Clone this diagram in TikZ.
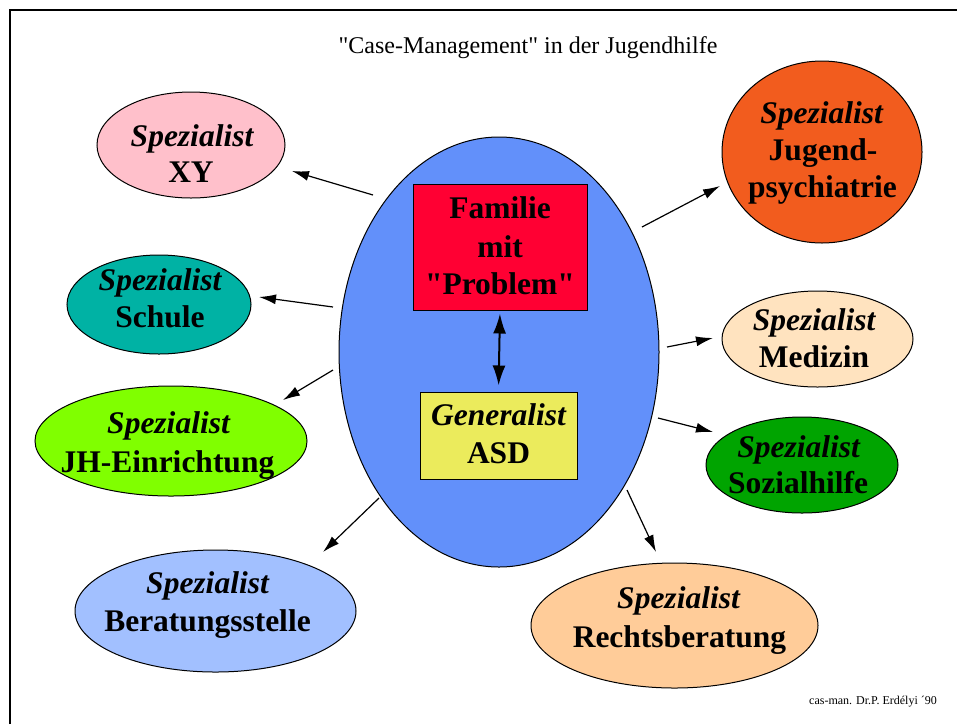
\documentclass[tikz,border=0pt]{standalone}
\usepackage{fontspec}
\setmainfont{Liberation Serif}[Ligatures=TeXOff]
\usetikzlibrary{shapes.geometric,arrows.meta}
\definecolor{cblue}{RGB}{98,144,250}
\definecolor{cred}{RGB}{255,0,51}
\definecolor{cyellow}{RGB}{235,235,92}
\definecolor{cpink}{RGB}{255,192,203}
\definecolor{cteal}{RGB}{0,178,164}
\definecolor{clime}{RGB}{128,255,0}
\definecolor{clblue}{RGB}{162,192,255}
\definecolor{corange}{RGB}{242,92,30}
\definecolor{cbeige}{RGB}{255,227,191}
\definecolor{cgreen}{RGB}{0,164,0}
\definecolor{cpeach}{RGB}{255,204,153}
\begin{document}
\begin{tikzpicture}[x=1pt,y=-1pt,
  ell/.style={ellipse,draw=black,line width=1pt,inner sep=0pt},
  boxnode/.style={rectangle,draw=black,line width=1pt,inner sep=0pt},
  lbl/.style={anchor=base,inner sep=0pt,font=\fontsize{31.5}{37}\selectfont\bfseries},
  spec/.style={anchor=base,inner sep=0pt,font=\fontsize{31.5}{37}\selectfont\bfseries\itshape},
  arr/.style={line width=1.2pt,-{Latex[length=17pt,width=10pt]}},
  dbl/.style={line width=2pt,{Latex[length=20pt,width=13pt]}-{Latex[length=20pt,width=13pt]}}]
\useasboundingbox (0,0) rectangle (957,724);
\fill[white] (0,0) rectangle (957,724);
\draw[line width=2pt] (10,724) -- (10,10) -- (957,10);

\node[anchor=base,inner sep=0pt,font=\fontsize{24}{29}\selectfont] (title) at (528,53) {"Case-Management" in der Jugendhilfe};
\node[anchor=base,inner sep=0pt,font=\fontsize{12}{14}\selectfont] (foot) at (873,704) {cas-man. Dr.P. Erdélyi ´90};

% central ellipse
\node[ell,fill=cblue,minimum width=320pt,minimum height=430pt] (blue) at (499,352) {};
\node[boxnode,fill=cred,minimum width=174pt,minimum height=126pt] (fam) at (500,247) {};
\node[lbl] (fam-a) at (500,218) {Familie};
\node[lbl] (fam-b) at (500,257) {mit};
\node[lbl] (fam-c) at (500,294) {"Problem"};
\node[boxnode,fill=cyellow,minimum width=157pt,minimum height=87pt] (gen) at (498.5,435.5) {};
\node[spec] (gen-a) at (498.5,425) {Generalist};
\node[lbl] (gen-b) at (498.5,463) {ASD};
\draw[dbl,shorten <=3pt,shorten >=6pt] (fam.south) -- (gen.north);

% specialists
\node[ell,fill=cpink,minimum width=188pt,minimum height=106pt] (xy) at (191,145) {};
\node[spec] (xy-a) at (192,146) {Spezialist};
\node[lbl] (xy-b) at (191,182) {XY};

\node[ell,fill=cteal,minimum width=184pt,minimum height=99pt] (sch) at (159,304.5) {};
\node[spec] (sch-a) at (160,290) {Spezialist};
\node[lbl] (sch-b) at (160,327) {Schule};

\node[ell,fill=clime,minimum width=272pt,minimum height=110pt] (jh) at (171,441) {};
\node[spec] (jh-a) at (168.5,433) {Spezialist};
\node[lbl] (jh-b) at (167.5,472) {JH-Einrichtung};

\node[ell,fill=clblue,minimum width=281pt,minimum height=122pt] (ber) at (215.5,611) {};
\node[spec] (ber-a) at (207.5,593) {Spezialist};
\node[lbl] (ber-b) at (207.5,631) {Beratungsstelle};

\node[ell,fill=corange,minimum width=200pt,minimum height=182pt] (jug) at (822,152) {};
\node[spec] (jug-a) at (821.5,123) {Spezialist};
\node[lbl] (jug-b) at (823,160) {Jugend-};
\node[lbl] (jug-c) at (822.5,197) {psychiatrie};

\node[ell,fill=cbeige,minimum width=191pt,minimum height=96pt] (med) at (817.5,339) {};
\node[spec] (med-a) at (814,330) {Spezialist};
\node[lbl] (med-b) at (814,367) {Medizin};

\node[ell,fill=cgreen,minimum width=192pt,minimum height=96pt] (soz) at (802,465) {};
\node[spec] (soz-a) at (798.5,457) {Spezialist};
\node[lbl] (soz-b) at (798,493) {Sozialhilfe};

\node[ell,fill=cpeach,minimum width=287pt,minimum height=125pt] (rec) at (674.5,625.5) {};
\node[spec] (rec-a) at (678.5,608) {Spezialist};
\node[lbl] (rec-b) at (679.5,647) {Rechtsberatung};

% connector end points
\coordinate (s-xy) at (373,195);  \coordinate (t-xy) at (292,171);
\coordinate (s-sch) at (333,307); \coordinate (t-sch) at (259,297);
\coordinate (s-jh) at (333,370);  \coordinate (t-jh) at (283,400);
\coordinate (s-ber) at (379,498); \coordinate (t-ber) at (323,552);
\coordinate (s-jug) at (642,227); \coordinate (t-jug) at (720,186);
\coordinate (s-med) at (667,347); \coordinate (t-med) at (713,338);
\coordinate (s-soz) at (658,418); \coordinate (t-soz) at (713,432);
\coordinate (s-rec) at (627,490); \coordinate (t-rec) at (656,552);

\draw[arr] (s-xy) -- (t-xy);
\draw[arr] (s-sch) -- (t-sch);
\draw[arr] (s-jh) -- (t-jh);
\draw[arr] (s-ber) -- (t-ber);
\draw[arr] (s-jug) -- (t-jug);
\draw[arr] (s-med) -- (t-med);
\draw[arr] (s-soz) -- (t-soz);
\draw[arr] (s-rec) -- (t-rec);
\end{tikzpicture}
\end{document}
